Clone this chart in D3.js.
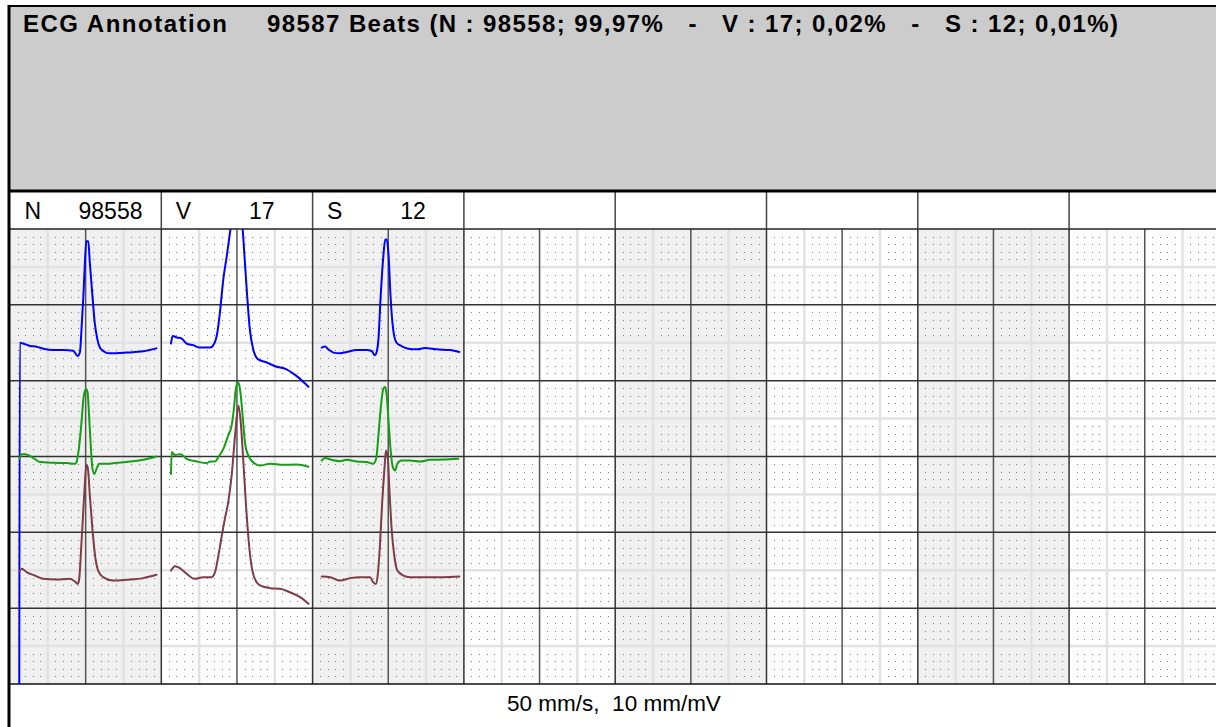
<!DOCTYPE html>
<html>
<head>
<meta charset="utf-8">
<script src="https://cdn.jsdelivr.net/npm/d3@7/dist/d3.min.js"></script>
<style>
  html, body { margin: 0; padding: 0; background: #fff; }
  svg { display: block; font-family: "Liberation Sans", Arial, sans-serif; }
</style>
</head>
<body>
<svg id="chart" width="1216" height="727"></svg>
<script>
// ---------------- DATA ----------------
const titleText = "ECG Annotation";
const summaryText = "98587 Beats (N : 98558; 99,97%   -   V : 17; 0,02%   -   S : 12; 0,01%)";
const footerText = "50 mm/s,  10 mm/mV";
const beatClasses = ["N", "V", "S"];
const beatCounts = [98558, 17, 12];
const cellCount = 8;
const leadColors = ["#0000ff", "#12a012", "#7d3c47"];
const leadBaselinesMm = [16, 30.7, 46];   // baseline of each lead, mm below grid top

// beat templates: [time ms from cell start, amplitude mV relative to lead baseline]
const nBlue = [[24.5,-4.6],[26,0.10],[35,0.09],[53,0.057],[70,0.048],[88,0.022],[114,0.004],[141,0.004],[167,-0.005],[173,-0.04],[179,-0.075],[185,-0.022],[189,0.277],[194,0.716],[198,1.156],[202,1.44],[207,1.44],[211,1.156],[218,0.716],[224,0.365],[231,0.145],[238,0.035],[251,-0.022],[264,-0.04],[308,-0.03],[352,-0.013],[387,0.026]];
const nGreen = [[25,0.04],[31,0.10],[40,0.10],[62,0.05],[79,-0.004],[114,-0.013],[150,-0.017],[172,-0.026],[176,-0.004],[182,0.17],[189,0.52],[195,0.87],[201,0.96],[205,0.92],[209,0.61],[214,0.17],[218,-0.09],[223,-0.16],[229,-0.09],[236,-0.026],[255,-0.026],[282,-0.013],[317,0.004],[352,0.026],[387,0.07]];
const nMaroon = [[25,0.09],[31,0.12],[44,0.075],[66,0.03],[88,-0.013],[123,-0.022],[158,-0.013],[172,-0.05],[179,-0.08],[183,-0.013],[187,0.29],[192,0.73],[197,1.17],[202,1.49],[206,1.44],[211,1.085],[218,0.64],[225,0.29],[233,0.096],[246,0.01],[273,-0.036],[308,-0.026],[352,-0.004],[387,0.04]];
const vBlue = [[25.6,0.09],[30,0.19],[41,0.17],[54,0.155],[67,0.09],[85,0.066],[102,0.036],[129,0.036],[139,0.08],[148,0.23],[155,0.50],[164,0.94],[173,1.24],[183,1.60],[195,1.95],[205,1.95],[215,1.60],[221,1.16],[227,0.72],[234,0.28],[243,0.013],[256,-0.12],[279,-0.16],[301,-0.21],[331,-0.25],[358,-0.34],[389,-0.48]];
const vGreen = [[25.6,-0.16],[27.5,0.128],[36,0.09],[49,0.10],[57,0.083],[67,0.04],[94,0.004],[120,-0.017],[129,0.004],[142,0.004],[151,0.062],[164,0.17],[177,0.35],[186,0.48],[192,0.70],[197,0.96],[203,1.05],[208,0.96],[215,0.61],[221,0.26],[230,0.083],[248,-0.026],[261,-0.049],[288,-0.026],[322,-0.04],[358,-0.036],[389,-0.066]];
const vMaroon = [[25.6,0.096],[36,0.154],[49,0.128],[67,0.053],[89,-0.013],[111,0.009],[133,0.009],[142,0.075],[151,0.294],[160,0.558],[168,0.778],[177,0.998],[186,1.35],[195,1.877],[204,2.27],[210,2.05],[217,1.526],[224,0.953],[233,0.38],[244,0.03],[261,-0.10],[288,-0.136],[314,-0.145],[340,-0.19],[367,-0.255],[389,-0.343]];
const sBlue = [[24,0.036],[33,0.049],[41.5,0.013],[55,-0.03],[72.5,-0.04],[90,-0.022],[117,0.004],[143,0.004],[156,-0.009],[165,-0.066],[169,-0.03],[174,0.145],[180,0.716],[187,1.24],[192,1.46],[196,1.46],[201,1.24],[206,0.716],[213,0.277],[222,0.10],[235,0.057],[253,0.022],[275,0.013],[297,0.03],[328,0.013],[363,0.004],[388,-0.022]];
const sGreen = [[24,0.017],[33,0.049],[50,0.026],[72.5,0.009],[90,0.026],[117,0.004],[143,-0.004],[160,-0.026],[168,0.04],[174,0.347],[180,0.70],[187,0.963],[192,0.985],[196,0.874],[201,0.52],[206,0.17],[212,-0.07],[218,-0.115],[224,-0.026],[235,0.017],[257,0.017],[284,0.004],[310,0.026],[345,0.03],[385,0.04]];
const sMaroon = [[24,0.017],[46,0.009],[72.5,-0.036],[99,-0.004],[125,0.009],[152,0.009],[160,-0.057],[167,-0.08],[172,0.03],[178,0.426],[184,1.0],[190,1.44],[194,1.68],[199,1.57],[203,1.17],[209,0.64],[216,0.29],[224,0.096],[240,0.03],[257,0.009],[292,0.009],[345,0.009],[388,0.017]];
const beatTraces = [[nBlue, nGreen, nMaroon], [vBlue, vGreen, vMaroon], [sBlue, sGreen, sMaroon]];

// ---------------- LAYOUT ----------------
const W = 1216, H = 727;
const frameLeft = 9, frameTop = 6;
const headerBottom = 191;
const gridLeft = 10, gridTop = 229, gridBottom = 684;
const cellW = 151.3;
const mmPerCell = 20, mmRows = 60;
const paperSpeed = 50 / 1000;   // mm per ms
const gain = 10;                // mm per mV

const svg = d3.select("#chart");

// mm scales
const xmm = d3.scaleLinear().domain([0, cellCount * mmPerCell]).range([gridLeft, gridLeft + cellCount * cellW]);
const ymm = d3.scaleLinear().domain([0, mmRows]).range([gridTop, gridBottom]);

// header
svg.append("rect").attr("x", frameLeft).attr("y", frameTop).attr("width", W - frameLeft).attr("height", headerBottom - frameTop).attr("fill", "#cccccc");
svg.append("text").attr("x", 23).attr("y", 32).attr("font-size", 24).attr("font-weight", "bold").attr("fill", "#000")
  .attr("textLength", 204).attr("lengthAdjust", "spacing").text(titleText);
svg.append("text").attr("x", 267).attr("y", 32).attr("font-size", 24).attr("font-weight", "bold").attr("fill", "#000")
  .attr("textLength", 851).attr("lengthAdjust", "spacing").style("white-space", "pre").text(summaryText);

// label row
svg.append("rect").attr("x", frameLeft).attr("y", headerBottom).attr("width", W - frameLeft).attr("height", gridTop - headerBottom).attr("fill", "#fff");

const cells = d3.range(cellCount);
// cell backgrounds
svg.append("g").selectAll("rect").data(cells).join("rect")
  .attr("x", d => xmm(d * mmPerCell)).attr("y", gridTop)
  .attr("width", cellW).attr("height", gridBottom - gridTop)
  .attr("fill", d => d % 2 === 0 ? "#f0f0f0" : "#ffffff");

// 5 mm light bands
const g5 = svg.append("g").attr("stroke", "#e2e2e2").attr("stroke-width", 2.5);
g5.selectAll("line.v").data(d3.range(5, cellCount * mmPerCell, 5).filter(m => m % 10 !== 0)).join("line")
  .attr("x1", d => xmm(d)).attr("x2", d => xmm(d)).attr("y1", gridTop).attr("y2", gridBottom);
g5.selectAll("line.h").data(d3.range(5, mmRows, 5).filter(m => m % 10 !== 0)).join("line")
  .attr("y1", d => ymm(d)).attr("y2", d => ymm(d)).attr("x1", gridLeft).attr("x2", W);

// 1 mm dots
const dots = [];
for (let i = 0; i < cellCount * mmPerCell; i++) {
  if (i % 5 === 0) continue;
  for (let j = 0; j < mmRows; j++) {
    if (j % 5 === 0) continue;
    dots.push([i, j]);
  }
}
svg.append("g").attr("fill", "#808080").selectAll("rect").data(dots).join("rect")
  .attr("x", d => Math.round(xmm(d[0]))).attr("y", d => Math.round(ymm(d[1])))
  .attr("width", 1).attr("height", 1);

// major lines
const gM = svg.append("g");
gM.selectAll("line.v").data(d3.range(10, cellCount * mmPerCell, 10)).join("line")
  .attr("x1", d => xmm(d)).attr("x2", d => xmm(d)).attr("y1", gridTop).attr("y2", gridBottom)
  .attr("stroke", d => d % 20 === 0 ? "#333" : "#555").attr("stroke-width", 1.5);
gM.selectAll("line.h").data(d3.range(10, mmRows, 10)).join("line")
  .attr("y1", d => ymm(d)).attr("y2", d => ymm(d)).attr("x1", gridLeft).attr("x2", W)
  .attr("stroke", "#333").attr("stroke-width", 1.5);
// grid top & bottom
gM.append("line").attr("x1", gridLeft).attr("x2", W).attr("y1", gridTop).attr("y2", gridTop).attr("stroke", "#222").attr("stroke-width", 1.5);
gM.append("line").attr("x1", gridLeft).attr("x2", W).attr("y1", gridBottom).attr("y2", gridBottom).attr("stroke", "#111").attr("stroke-width", 1.5);
// label row separators
gM.selectAll("line.s").data(d3.range(1, cellCount)).join("line")
  .attr("x1", d => xmm(d * mmPerCell)).attr("x2", d => xmm(d * mmPerCell))
  .attr("y1", headerBottom).attr("y2", gridTop).attr("stroke", "#444").attr("stroke-width", 1.5);

// labels
const lab = svg.append("g").attr("font-size", 23).attr("fill", "#000");
lab.selectAll("text.c").data(beatClasses).join("text")
  .attr("x", (d, i) => xmm(i * mmPerCell) + 14.5).attr("y", 219).text(d => d);
lab.selectAll("text.n").data(beatCounts).join("text")
  .attr("x", (d, i) => xmm(i * mmPerCell) + 100.5).attr("y", 219).attr("text-anchor", "middle").text(d => d);

// traces
svg.append("defs").append("clipPath").attr("id", "gridClip")
  .append("rect").attr("x", gridLeft).attr("y", gridTop).attr("width", W - gridLeft).attr("height", gridBottom - gridTop);

const tr = svg.append("g").attr("clip-path", "url(#gridClip)").attr("fill", "none").attr("stroke-width", 2).attr("stroke-linejoin", "round").attr("stroke-linecap", "round");
beatTraces.forEach((leads, ci) => {
  leads.forEach((pts, li) => {
    const line = d3.line()
      .x(d => xmm(ci * mmPerCell + d[0] * paperSpeed))
      .y(d => ymm(leadBaselinesMm[li] - d[1] * gain))
      .curve(d3.curveMonotoneX);
    tr.append("path").attr("d", line(pts)).attr("stroke", leadColors[li]);
  });
});

// frame lines
svg.append("line").attr("x1", frameLeft).attr("x2", W).attr("y1", frameTop).attr("y2", frameTop).attr("stroke", "#000").attr("stroke-width", 2);
svg.append("line").attr("x1", frameLeft).attr("x2", frameLeft).attr("y1", frameTop - 1).attr("y2", H).attr("stroke", "#000").attr("stroke-width", 3);
svg.append("line").attr("x1", frameLeft).attr("x2", W).attr("y1", headerBottom).attr("y2", headerBottom).attr("stroke", "#000").attr("stroke-width", 3);

// footer
svg.append("text").attr("x", 614).attr("y", 711).attr("font-size", 22.5).attr("text-anchor", "middle").attr("fill", "#000").style("white-space", "pre").text(footerText);
</script>
</body>
</html>
